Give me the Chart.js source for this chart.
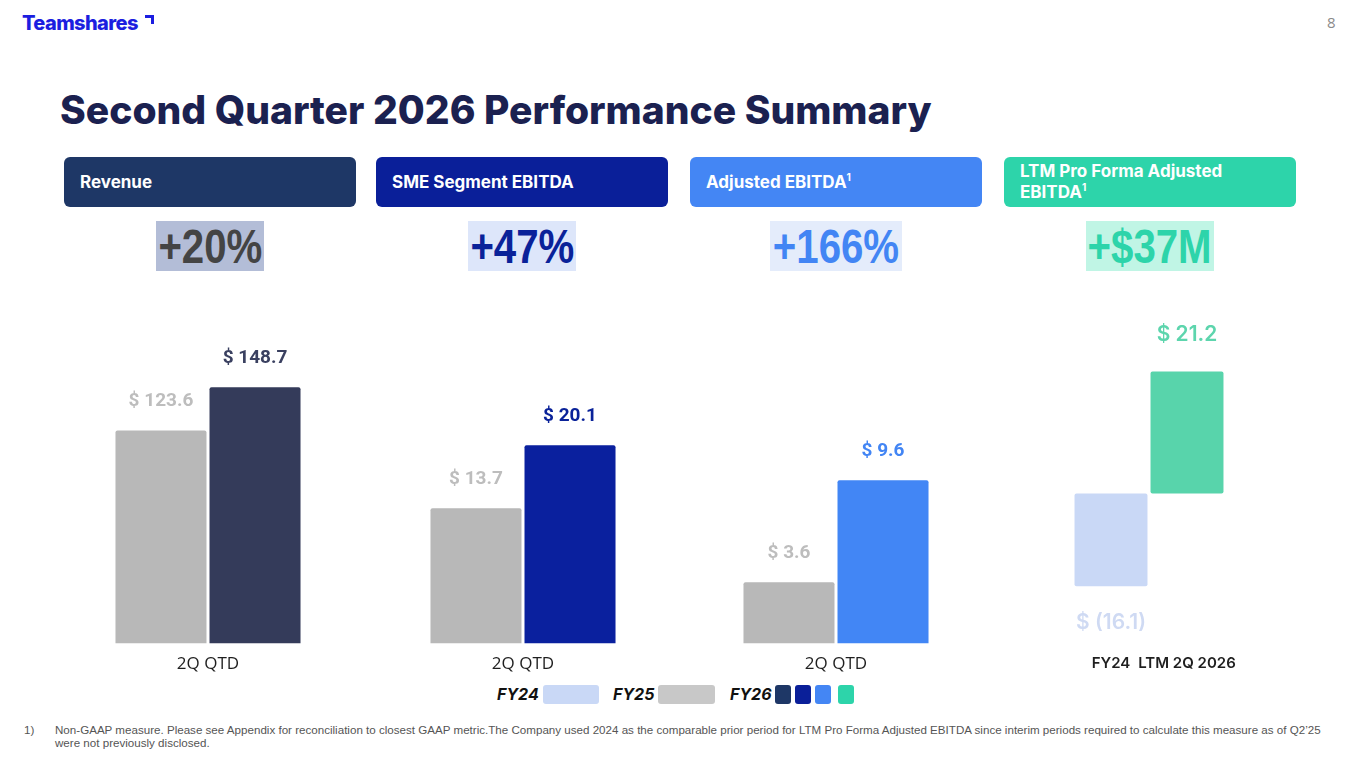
<!DOCTYPE html>
<html>
<head>
<meta charset="utf-8">
<script src="https://cdn.jsdelivr.net/npm/chart.js"></script>
<style>
  body { margin: 0; width: 1365px; height: 768px; background: #fff; position: relative; overflow: hidden; font-family: "Inter", "Noto Sans", sans-serif; }
  .abs { position: absolute; }
  .logo { left: 22px; top: 11px; font: 800 20px "Inter", sans-serif; color: #1c1ee0; letter-spacing: -0.6px; }
  .logo-mark { left: 145px; top: 15px; width: 6px; height: 6px; border-top: 3px solid #1c1ee0; border-right: 3px solid #1c1ee0; }
  .page { left: 1327px; top: 12px; font: 15px "Open Sans", sans-serif; color: #8a8a8a; }
  .title { left: 60px; top: 86px; font: 800 39px "Inter", sans-serif; color: #1b2150; white-space: nowrap; }
  .hdr { top: 157px; width: 292px; height: 50px; border-radius: 6px; color: #fff; font: 700 17px "Inter", sans-serif; box-sizing: border-box; padding-left: 16px; display: flex; align-items: center; line-height: 21px; }
  .hdr sup { font-size: 10px; vertical-align: 7px; line-height: 0; }
  .big { top: 221px; height: 50px; font: 700 49px "Liberation Sans", Arial, sans-serif; line-height: 50px; display: flex; justify-content: center; align-items: center; }
  .big span { flex-shrink: 0; display: inline-block; transform: scaleX(0.82); transform-origin: center; white-space: nowrap; }
  canvas { position: absolute; }
  .legend { top: 684px; height: 20px; display: flex; align-items: center; font: italic 700 16px "Inter", sans-serif; color: #111; }
  .sw { position: absolute; top: 685px; height: 19px; border-radius: 3px; }
  .foot { top: 723px; font: 11.6px "Liberation Sans", Arial, sans-serif; color: #555; line-height: 13px; }
</style>
</head>
<body>
<div class="abs logo">Teamshares</div>
<div class="abs logo-mark"></div>
<div class="abs page">8</div>
<div class="abs title">Second Quarter 2026 Performance Summary</div>

<div class="abs hdr" style="left:64px;background:#1e3766;"><span>Revenue</span></div>
<div class="abs hdr" style="left:376px;background:#0a1f99;"><span>SME Segment EBITDA</span></div>
<div class="abs hdr" style="left:690px;background:#4486f4;"><span>Adjusted EBITDA<sup>1</sup></span></div>
<div class="abs hdr" style="left:1004px;background:#2dd4aa;"><span>LTM Pro Forma Adjusted<br>EBITDA<sup>1</sup></span></div>

<div class="abs big" style="left:156px;width:108px;background:#b3bdd7;color:#444;"><span>+20%</span></div>
<div class="abs big" style="left:468px;width:108px;background:#dde6fa;color:#0a2299;"><span>+47%</span></div>
<div class="abs big" style="left:770px;width:132px;background:#e4ecfb;color:#4285f4;"><span>+166%</span></div>
<div class="abs big" style="left:1086px;width:128px;background:#c0f5e5;color:#2dd4aa;"><span>+$37M</span></div>

<canvas id="c1" width="292" height="384" style="left:62px;top:300px;"></canvas>
<canvas id="c2" width="292" height="384" style="left:377px;top:300px;"></canvas>
<canvas id="c3" width="292" height="384" style="left:690px;top:300px;"></canvas>
<canvas id="c4" width="292" height="384" style="left:1003px;top:300px;"></canvas>

<div class="abs legend" style="left:497px;">FY24</div>
<div class="sw" style="left:543px;width:56px;background:#c9d8f6;"></div>
<div class="abs legend" style="left:613px;">FY25</div>
<div class="sw" style="left:658px;width:57px;background:#c8c8c8;"></div>
<div class="abs legend" style="left:730px;">FY26</div>
<div class="sw" style="left:775px;width:16px;background:#1e3766;"></div>
<div class="sw" style="left:795px;width:16px;background:#0a1f99;"></div>
<div class="sw" style="left:815px;width:16px;background:#4486f4;"></div>
<div class="sw" style="left:838px;width:16px;background:#2dd4aa;"></div>

<div class="abs foot" style="left:24px;">1)</div>
<div class="abs foot" style="left:55px;width:1290px;">Non-GAAP measure. Please see Appendix for reconciliation to closest GAAP metric.The Company used 2024 as the comparable prior period for LTM Pro Forma Adjusted EBITDA since interim periods required to calculate this measure as of Q2’25<br>were not previously disclosed.</div>

<script>
// Data
const periodLabels = ['2Q QTD'];
const revenueValues = [123.6, 148.7];   // FY25, FY26
const smeValues = [13.7, 20.1];
const adjustedValues = [3.6, 9.6];
const ltmLabels = ['FY24', 'LTM 2Q 2026'];
const ltmValues = [-16.1, 21.2];

const GREY = '#b8b8b8';
const GREY_TEXT = '#bdbdbd';

function money(v) {
  return v < 0 ? `$ (${Math.abs(v).toFixed(1)})` : `$ ${v.toFixed(1)}`;
}

// Draws "$ x" labels above (or below, for negatives) each bar
const valueLabels = {
  id: 'valueLabels',
  afterDatasetsDraw(chart, args, opts) {
    const ctx = chart.ctx;
    ctx.save();
    ctx.font = opts.font;
    ctx.textAlign = 'center';
    ctx.textBaseline = 'middle';
    chart.data.datasets.forEach((ds, i) => {
      chart.getDatasetMeta(i).data.forEach((bar, j) => {
        const raw = ds.data[j];
        const v = Array.isArray(raw) ? (raw[0] < 0 ? raw[0] : raw[1]) : raw;
        const color = Array.isArray(ds.labelColor) ? ds.labelColor[j] : ds.labelColor;
        ctx.fillStyle = color;
        const top = Math.min(bar.y, bar.base);
        const bottom = Math.max(bar.y, bar.base);
        const y = v < 0 ? bottom + opts.offset : top - opts.offset;
        ctx.fillText(money(v), bar.x, y);
      });
    });
    ctx.restore();
  }
};

function baseOptions(yMin, yMax, tickFont, tickPad, labelFont, labelOffset, sidePad) {
  return {
    responsive: false,
    animation: false,
    layout: { padding: { top: 0, bottom: 0, left: sidePad, right: sidePad } },
    plugins: {
      legend: { display: false },
      tooltip: { enabled: false },
      valueLabels: { font: labelFont, offset: labelOffset }
    },
    scales: {
      x: {
        grid: { display: false, drawTicks: false },
        border: { display: false },
        ticks: { color: '#1f1f1f', font: tickFont, padding: tickPad,
                 autoSkip: false, minRotation: 0, maxRotation: 0 }
      },
      y: { display: false, min: yMin, max: yMax }
    }
  };
}

function pairChart(id, values, mainColor, mainText, yMax) {
  new Chart(document.getElementById(id), {
    type: 'bar',
    data: {
      labels: periodLabels,
      datasets: [
        { data: [values[0]], backgroundColor: GREY, labelColor: GREY_TEXT, borderRadius: 2,
          categoryPercentage: 0.644, barPercentage: 0.968 },
        { data: [values[1]], backgroundColor: mainColor, labelColor: mainText, borderRadius: 2,
          categoryPercentage: 0.644, barPercentage: 0.968 }
      ]
    },
    options: baseOptions(0, yMax, { family: 'Open Sans', size: 17 }, 10,
      '700 19px Roboto', 29, 0),
    plugins: [valueLabels]
  });
}

pairChart('c1', revenueValues, '#343b5a', '#3a4060', 199.4);
pairChart('c2', smeValues, '#0a209e', '#0a2299', 34.8);
pairChart('c3', adjustedValues, '#4286f5', '#4285f4', 20.2);

new Chart(document.getElementById('c4'), {
  type: 'bar',
  data: {
    labels: ltmLabels,
    datasets: [{
      data: ltmValues.map(v => v < 0 ? [v, 0] : [0, v]),
      backgroundColor: ['#c9d8f6', '#58d4ab'],
      labelColor: ['#cfdaf3', '#5dd5ad'],
      borderRadius: 2,
      borderSkipped: false,
      categoryPercentage: 0.96,
      barPercentage: 1
    }]
  },
  options: baseOptions(-25.8, 33.6, { family: 'Inter', size: 15, weight: '600' }, 12,
    '600 21px Inter', 37, 70),
  plugins: [valueLabels]
});
</script>
</body>
</html>
